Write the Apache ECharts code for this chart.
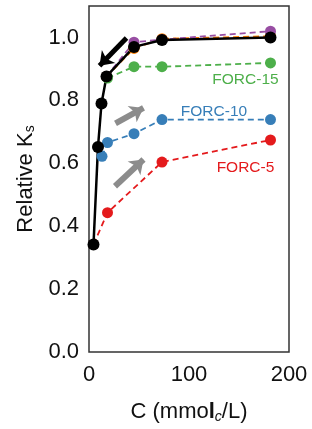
<!DOCTYPE html>
<html>
<head>
<meta charset="utf-8">
<script src="https://cdn.jsdelivr.net/npm/echarts@6/dist/echarts.min.js"></script>
<style>
  html, body { margin: 0; padding: 0; background: #fff; }
  #chart { width: 312px; height: 429px; }
</style>
</head>
<body>
<div id="chart"></div>
<script>
// 数据
var blackData = [[4.5, 0.342], [9, 0.652], [12.5, 0.79], [17.5, 0.876], [45, 0.97], [73, 0.992], [181.5, 1.0]];
var redData = [[4.5, 0.342], [18.5, 0.443], [73, 0.604], [181.5, 0.674]];
var blueData = [[13, 0.622], [18.5, 0.666], [45, 0.694], [73, 0.739], [181.5, 0.739]];
var greenData = [[18.5, 0.871], [45, 0.907], [73, 0.907], [181.5, 0.919]];
var purpleData = [[17.5, 0.876], [45, 0.985], [73, 0.993], [181.5, 1.02]];
var orangeData = [[17.5, 0.876], [45, 0.965], [73, 0.996], [181.5, 1.004]];

// annotation labels and arrows, in data coordinates
var seriesLabels = [
  { text: 'FORC-15', coord: [156.5, 0.866], color: '#4daf4a' },
  { text: 'FORC-10', coord: [125, 0.765], color: '#377eb8' },
  { text: 'FORC-5', coord: [156.5, 0.586], color: '#e41a1c' }
];
var blackArrow = [[37.5, 0.998], [10.5, 0.91]];
var grayArrows = [
  [[26.5, 0.727], [54.5, 0.776]],
  [[26, 0.527], [54.5, 0.612]]
];

var FONT = 'Liberation Sans, Arial, Helvetica, sans-serif';

function dashed(name, color, data) {
  return {
    name: name,
    type: 'line',
    data: data,
    symbol: 'circle',
    symbolSize: 11,
    itemStyle: { color: color },
    lineStyle: { color: color, width: 1.8, type: [6, 4] },
    silent: true
  };
}

var chart = echarts.init(document.getElementById('chart'), null, { renderer: 'canvas' });

var option = {
  animation: false,
  grid: {
    left: 89,
    top: 6,
    width: 200,
    height: 357,
    show: true,
    borderColor: '#333',
    borderWidth: 1.5,
    backgroundColor: 'transparent'
  },
  xAxis: {
    type: 'value',
    min: 0,
    max: 200,
    interval: 100,
    name: '{a|C (mmo}{b|l}{c|c}{a|/L)}',
    nameLocation: 'middle',
    nameGap: 48,
    nameTextStyle: {
      rich: {
        a: { fontSize: 22, fontFamily: FONT, color: '#111' },
        b: { fontSize: 22, fontFamily: FONT, color: '#111', fontWeight: 'bold' },
        c: { fontSize: 14, fontFamily: FONT, color: '#111', fontStyle: 'italic', verticalAlign: 'bottom', padding: [10, 0, 0, 0] }
      }
    },
    axisLine: { show: false },
    axisTick: { show: false },
    splitLine: { show: false },
    axisLabel: { fontSize: 22, fontFamily: FONT, color: '#111', margin: 12 }
  },
  yAxis: {
    type: 'value',
    min: 0,
    max: 1.1,
    interval: 0.2,
    name: '{a|Relative K}{s|s}',
    nameLocation: 'middle',
    nameGap: 50,
    nameTextStyle: {
      rich: {
        a: { fontSize: 22, fontFamily: FONT, color: '#111' },
        s: { fontSize: 14, fontFamily: FONT, color: '#111', verticalAlign: 'bottom', padding: [10, 0, 0, 0] }
      }
    },
    axisLine: { show: false },
    axisTick: { show: false },
    splitLine: { show: false },
    axisLabel: {
      fontSize: 22, fontFamily: FONT, color: '#111', margin: 10,
      showMaxLabel: false,
      formatter: function (v) { return v.toFixed(1); }
    }
  },
  series: [
    dashed('FORC-5', '#e41a1c', redData),
    dashed('FORC-10', '#377eb8', blueData),
    dashed('FORC-15', '#4daf4a', greenData),
    dashed('orange', '#ff7f00', orangeData),
    dashed('purple', '#984ea3', purpleData),
    {
      name: 'black',
      type: 'line',
      data: blackData,
      symbol: 'circle',
      symbolSize: 12,
      itemStyle: { color: '#000' },
      lineStyle: { color: '#000', width: 2.5 },
      silent: true,
      markLine: {
        silent: true,
        symbol: ['none', 'arrow'],
        label: { show: false },
        data: [
          [{ coord: blackArrow[0], symbolSize: 0 },
           { coord: blackArrow[1], symbolSize: [14, 13], lineStyle: { color: '#000', width: 5, type: 'solid' } }]
        ].concat(grayArrows.map(function (a) {
          return [{ coord: a[0], symbolSize: 0 },
                  { coord: a[1], symbolSize: [14, 13], lineStyle: { color: '#8c8c8c', width: 6, type: 'solid' } }];
        }))
      },
      markPoint: {
        silent: true,
        symbol: 'circle',
        symbolSize: 1,
        itemStyle: { color: 'transparent' },
        data: seriesLabels.map(function (l) {
          return {
            coord: l.coord,
            label: { show: true, position: 'inside', formatter: l.text, color: l.color, fontSize: 15.5, fontFamily: FONT }
          };
        })
      }
    }
  ]
};

chart.setOption(option);
</script>
</body>
</html>
